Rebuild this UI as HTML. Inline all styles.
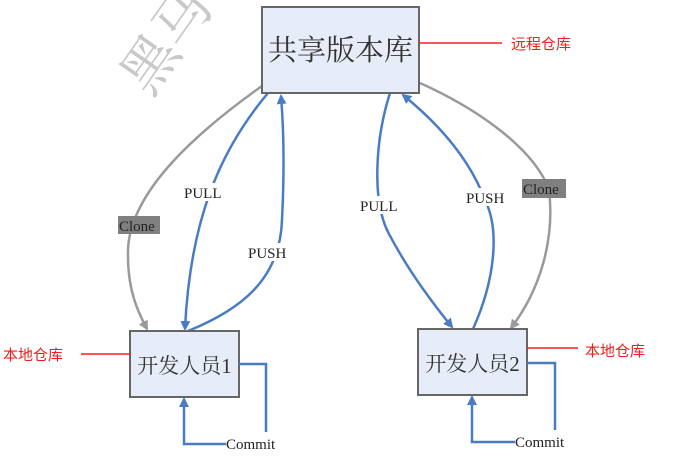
<!DOCTYPE html>
<html><head><meta charset="utf-8"><style>
html,body{margin:0;padding:0;background:#fff;}
svg{display:block;}
.cn{font-family:"Liberation Serif","Noto Serif CJK SC",serif;}
.lb{font-family:"Liberation Serif",serif;font-size:15px;fill:#222;}
.red{font-family:"Liberation Sans","Noto Sans CJK SC",sans-serif;font-size:15px;fill:#f02020;}
</style></head><body>
<svg width="673" height="465" viewBox="0 0 673 465" xmlns="http://www.w3.org/2000/svg">
<defs>
<marker id="ab" markerWidth="10" markerHeight="10" refX="8" refY="5" orient="auto" markerUnits="userSpaceOnUse"><path d="M0,0 L10,5 L0,10 z" fill="#4a7cc4"/></marker>
<marker id="ag" markerWidth="10" markerHeight="10" refX="8" refY="5" orient="auto" markerUnits="userSpaceOnUse"><path d="M0,0 L10,5 L0,10 z" fill="#9a9a9a"/></marker>
</defs>
<text x="0" y="0" class="cn" font-size="56" fill="#c8c8c8" transform="translate(150,98) rotate(-55)">黑马</text>
<path d="M262,86 C200,130 130,190 128,250 C127,290 138,312 147,329" fill="none" stroke="#9a9a9a" stroke-width="2.5" marker-end="url(#ag)"/>
<path d="M420,83 C480,110 535,150 549,190 C555,240 540,290 511,328" fill="none" stroke="#9a9a9a" stroke-width="2.5" marker-end="url(#ag)"/>
<path d="M268,93 C220,150 190,220 185,329" fill="none" stroke="#4a7cc4" stroke-width="2.5" marker-end="url(#ab)"/>
<path d="M188,331 C240,310 280,280 282,220 C285,160 283,120 281,96" fill="none" stroke="#4a7cc4" stroke-width="2.5" marker-end="url(#ab)"/>
<path d="M390,93 C375,140 372,200 388,232 C405,265 430,300 452,327" fill="none" stroke="#4a7cc4" stroke-width="2.5" marker-end="url(#ab)"/>
<path d="M473,329 C495,280 500,230 485,200 C470,160 440,125 403,95" fill="none" stroke="#4a7cc4" stroke-width="2.5" marker-end="url(#ab)"/>
<rect x="183" y="183" width="46" height="18" fill="#fff"/>
<text x="184" y="198" class="lb">PULL</text>
<rect x="247" y="243" width="50" height="18" fill="#fff"/>
<text x="248" y="258" class="lb">PUSH</text>
<rect x="118" y="216" width="42" height="18" fill="#808080"/>
<text x="119" y="231" class="lb">Clone</text>
<rect x="360" y="196" width="46" height="18" fill="#fff"/>
<text x="360" y="211" class="lb">PULL</text>
<rect x="465" y="188" width="50" height="18" fill="#fff"/>
<text x="466" y="203" class="lb">PUSH</text>
<rect x="522" y="179" width="44" height="19" fill="#808080"/>
<text x="523" y="194" class="lb">Clone</text>
<rect x="262" y="7" width="157" height="86" fill="#e6edf8" stroke="#666" stroke-width="2"/>
<text x="340.5" y="60" class="cn" font-size="29" fill="#333" text-anchor="middle">共享版本库</text>
<rect x="130" y="331" width="109" height="66" fill="#e6edf8" stroke="#666" stroke-width="2"/>
<text x="184.5" y="373" class="cn" font-size="21" fill="#333" text-anchor="middle">开发人员1</text>
<rect x="418" y="329" width="109" height="66" fill="#e6edf8" stroke="#666" stroke-width="2"/>
<text x="472.5" y="371" class="cn" font-size="21" fill="#333" text-anchor="middle">开发人员2</text>
<path d="M239,364 L266,364 L266,432" fill="none" stroke="#4a7cc4" stroke-width="2.5"/>
<path d="M226,444 L184,444 L184,399" fill="none" stroke="#4a7cc4" stroke-width="2.5" marker-end="url(#ab)"/>
<text x="226" y="449" class="lb">Commit</text>
<path d="M527,363 L555,363 L555,430" fill="none" stroke="#4a7cc4" stroke-width="2.5"/>
<path d="M515,442 L472,442 L472,397" fill="none" stroke="#4a7cc4" stroke-width="2.5" marker-end="url(#ab)"/>
<text x="515" y="447" class="lb">Commit</text>
<line x1="419" y1="43" x2="502" y2="43" stroke="#f02020" stroke-width="1.5"/>
<text x="511" y="49" class="red">远程仓库</text>
<line x1="81" y1="354" x2="131" y2="354" stroke="#f02020" stroke-width="1.5"/>
<text x="3" y="360" class="red">本地仓库</text>
<line x1="527" y1="348" x2="578" y2="348" stroke="#f02020" stroke-width="1.5"/>
<text x="585" y="356" class="red">本地仓库</text>
</svg>
</body></html>
